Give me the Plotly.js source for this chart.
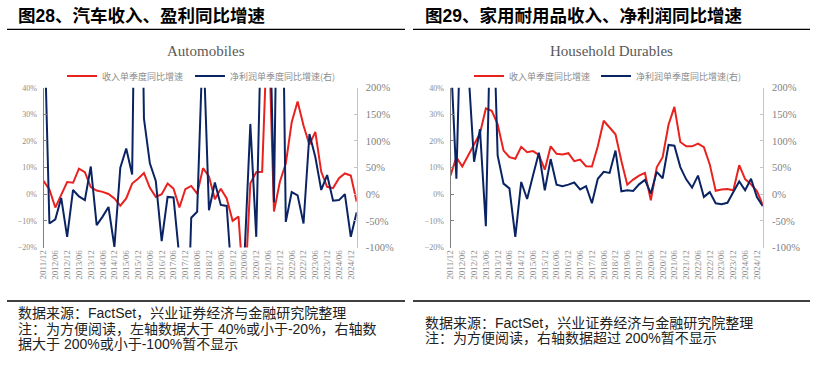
<!DOCTYPE html>
<html><head><meta charset="utf-8">
<script src="https://cdn.plot.ly/plotly-3.0.1.min.js"></script>
<style>html,body{margin:0;padding:0;background:#fff;}#c{width:818px;height:367px;}</style>
</head><body><div id="c"></div>
<script>
const quarters = ["2011/12","2012/03","2012/06","2012/09","2012/12","2013/03","2013/06","2013/09","2013/12","2014/03","2014/06","2014/09","2014/12","2015/03","2015/06","2015/09","2015/12","2016/03","2016/06","2016/09","2016/12","2017/03","2017/06","2017/09","2017/12","2018/03","2018/06","2018/09","2018/12","2019/03","2019/06","2019/09","2019/12","2020/03","2020/06","2020/09","2020/12","2021/03","2021/06","2021/09","2021/12","2022/03","2022/06","2022/09","2022/12","2023/03","2023/06","2023/09","2023/12","2024/03","2024/06","2024/09","2024/12","2025/03"];
const tickLabels = ["2011/12","2012/06","2012/12","2013/06","2013/12","2014/06","2014/12","2015/06","2015/12","2016/06","2016/12","2017/06","2017/12","2018/06","2018/12","2019/06","2019/12","2020/06","2020/12","2021/06","2021/12","2022/06","2022/12","2023/06","2023/12","2024/06","2024/12"];

// Automobiles
const autoRevenue = [5.0,1.8,-5.0,0.0,4.6,4.3,9.6,8.3,2.7,1.4,0.9,0.1,-1.6,-4.3,-1.6,4.0,5.8,8.0,2.4,-1.0,0.0,4.0,2.1,-5.0,1.9,3.1,0.2,9.8,6.7,-1.9,2.1,-1.6,-10.0,-8.4,-40.0,4.1,8.3,8.4,70.0,-6.5,4.7,11.5,27.0,34.8,25.8,18.6,23.4,8.4,2.8,2.3,6.0,7.8,7.0,-2.8];
const autoProfit = [380,-55,-47,-7,-80,8,-4,-11,52,-58,-42,-24,-99,50,86,37,900,142,58,25,-88,-5,-6,-120,-400,-44,-33,300,-30,22,-20,-22,-180,-250,-120,132,-80,400,500,-15,800,-52,4,-2,-55,113,70,8,36,-12,-11,0,-80,-34];

// Household Durables
const homeRevenue = [7.1,13.9,10.4,14.5,18.4,22.8,32.2,31.3,26.3,16.4,13.9,13.3,17.8,15.8,16.2,14.8,9.2,18.0,15.2,14.9,15.4,12.4,13.0,10.5,10.4,18.0,27.6,25.1,22.5,12.5,3.6,5.5,7.0,8.0,-2.3,10.1,13.9,26.1,32.8,19.6,18.0,18.0,19.0,17.7,11.2,1.3,1.8,2.0,1.5,10.9,5.7,3.7,1.2,-4.0];
const homeProfit = [270,29,450,240,61,122,-60,450,73,20,11,-80,23,-9,35,78,7.5,66,18,15,18,22,9,15,-17,29,42,40,82,5.6,7.5,6.2,18.6,27,1.2,42,30,92.5,91,51,28,12.4,35,-5,4,-17,-18.6,-16,4,24,7.5,29,-5.5,-22.5];

const leftTicks = [-20,-10,0,10,20,30,40];
const leftTickText = ["\u221220%","\u221210%","0%","10%","20%","30%","40%"];
const rightTicks = [-100,-50,0,50,100,150,200];
const rightTickText = ["-100%","-50%","0%","50%","100%","150%","200%"];

const W = 818, H = 367;
const X = p => p / W;
const Y = p => 1 - p / H;

const RED = '#e8231f', BLUE = '#0a2463';
const yd = [Y(247.5), Y(87.7)];
const zeroPos = yd[0] + (yd[1] - yd[0]) / 3;
const dL = [X(43.5), X(356.7)];
const dR = [X(450.5), X(762.8)];

const traces = [
  {x: quarters, y: autoRevenue, xaxis:'x', yaxis:'y', type:'scatter', mode:'lines', name:'收入单季度同比增速', line:{color:RED, width:2}, legend:'legend', legendwidth:83},
  {x: quarters, y: autoProfit, xaxis:'x', yaxis:'y2', type:'scatter', mode:'lines', name:'净利润单季度同比增速(右)', line:{color:BLUE, width:2}, legend:'legend', legendwidth:140},
  {x: quarters, y: homeRevenue, xaxis:'x3', yaxis:'y3', type:'scatter', mode:'lines', name:'收入单季度同比增速', line:{color:RED, width:2}, legend:'legend2', legendwidth:82},
  {x: quarters, y: homeProfit, xaxis:'x3', yaxis:'y4', type:'scatter', mode:'lines', name:'净利润单季度同比增速(右)', line:{color:BLUE, width:2}, legend:'legend2', legendwidth:140}
];

const serif = 'Liberation Serif, DejaVu Serif, serif';
const cjk = 'Liberation Sans, Noto Sans CJK SC, sans-serif';

function catAxis(domain, anchor) {
  return {domain: domain, anchor: anchor, type:'category', range:[0,53], showline:false, ticks:'', showgrid:false, zeroline:false,
    tickmode:'array', tickvals: tickLabels, ticktext: tickLabels, tickangle:-90,
    tickfont:{family:serif, size:9, color:'#8c8c8c'}, fixedrange:true};
}
function zeroAxis(over, t0, dt) {
  return {overlaying: over, anchor:'free', position: zeroPos, type:'linear', range:[0,53], showline:true, linecolor:'#7f7f7f', linewidth:1,
    ticks:'inside', ticklen:3, tickcolor:'#7f7f7f', tickmode:'linear', tick0:t0, dtick:dt, showticklabels:false, showgrid:false, zeroline:false};
}
function leftAxis(domain, anchor) {
  return {domain: domain, anchor: anchor, range:[-20,40], tickmode:'array', tickvals:leftTicks, ticktext:leftTickText,
    ticks:'inside', ticklen:3, tickcolor:'#7f7f7f', showline:true, linecolor:'#7f7f7f', linewidth:1, showgrid:false, zeroline:false,
    tickfont:{family:serif, size:8, color:'#8c8c8c'}, ticklabelstandoff:4};
}
function rightAxis(over, anchor) {
  return {overlaying: over, anchor: anchor, side:'right', range:[-100,200], tickmode:'array', tickvals:rightTicks, ticktext:rightTickText,
    ticks:'inside', ticklen:3, tickcolor:'#c4c4c4', showline:true, linecolor:'#c4c4c4', linewidth:1, showgrid:false, zeroline:false,
    tickfont:{family:serif, size:10.5, color:'#7f7f7f'}, ticklabelstandoff:6};
}

const legendBase = {orientation:'h', xanchor:'left', yanchor:'middle', y: Y(76), bgcolor:'rgba(0,0,0,0)',
  font:{family:'Noto Sans CJK SC, sans-serif', size:9, color:'#8c8c8c'}, itemwidth:30};

const noteFont = {family:cjk, size:14, color:'#222'};
const annotations = [
  {text:'图28、汽车收入、盈利同比增速', x:X(16), y:Y(15.7), xanchor:'left', yanchor:'middle', font:{family:cjk, size:17.5, color:'#000', weight:'bold'}},
  {text:'图29、家用耐用品收入、净利润同比增速', x:X(423), y:Y(15.7), xanchor:'left', yanchor:'middle', font:{family:cjk, size:17.5, color:'#000', weight:'bold'}},
  {text:'Automobiles', x:X(206), y:Y(51), xanchor:'center', yanchor:'middle', font:{family:serif, size:15, color:'#595959'}},
  {text:'Household Durables', x:X(611), y:Y(51), xanchor:'center', yanchor:'middle', font:{family:serif, size:15, color:'#595959'}},
  {text:'数据来源：FactSet，兴业证券经济与金融研究院整理', x:X(16), y:Y(313), xanchor:'left', yanchor:'middle', font:noteFont},
  {text:'注：为方便阅读，左轴数据大于 40%或小于-20%，右轴数', x:X(16), y:Y(328.5), xanchor:'left', yanchor:'middle', font:noteFont},
  {text:'据大于 200%或小于-100%暂不显示', x:X(16), y:Y(344), xanchor:'left', yanchor:'middle', font:noteFont},
  {text:'数据来源：FactSet，兴业证券经济与金融研究院整理', x:X(423), y:Y(322.5), xanchor:'left', yanchor:'middle', font:noteFont},
  {text:'注：为方便阅读，右轴数据超过 200%暂不显示', x:X(423), y:Y(338), xanchor:'left', yanchor:'middle', font:noteFont}
].map(a => Object.assign({xref:'paper', yref:'paper', showarrow:false}, a));

const shapes = [
  {x0:X(7), x1:X(405), y0:Y(29.3), y1:Y(29.3)},
  {x0:X(413), x1:X(810), y0:Y(29.3), y1:Y(29.3)},
  {x0:X(7), x1:X(405), y0:Y(301), y1:Y(301)},
  {x0:X(413), x1:X(810), y0:Y(301), y1:Y(301)}
].map(s => Object.assign({type:'line', xref:'paper', yref:'paper', line:{color:'#000', width:1.3}}, s));

const layout = {
  width: W, height: H, margin:{l:0, r:0, t:0, b:0}, paper_bgcolor:'#fff', plot_bgcolor:'rgba(0,0,0,0)',
  showlegend:true,
  legend: Object.assign({}, legendBase, {x: X(62)}),
  legend2: Object.assign({}, legendBase, {x: X(469)}),
  xaxis: catAxis(dL, 'y'),
  xaxis2: zeroAxis('x', 2, 3),
  yaxis: leftAxis(yd, 'x'),
  yaxis2: rightAxis('y', 'x'),
  xaxis3: catAxis(dR, 'y3'),
  xaxis4: zeroAxis('x3', 0, 2),
  yaxis3: leftAxis(yd, 'x3'),
  yaxis4: rightAxis('y3', 'x3'),
  annotations: annotations,
  shapes: shapes
};

Plotly.newPlot('c', traces, layout, {staticPlot:true, displayModeBar:false});
</script>
</body></html>
